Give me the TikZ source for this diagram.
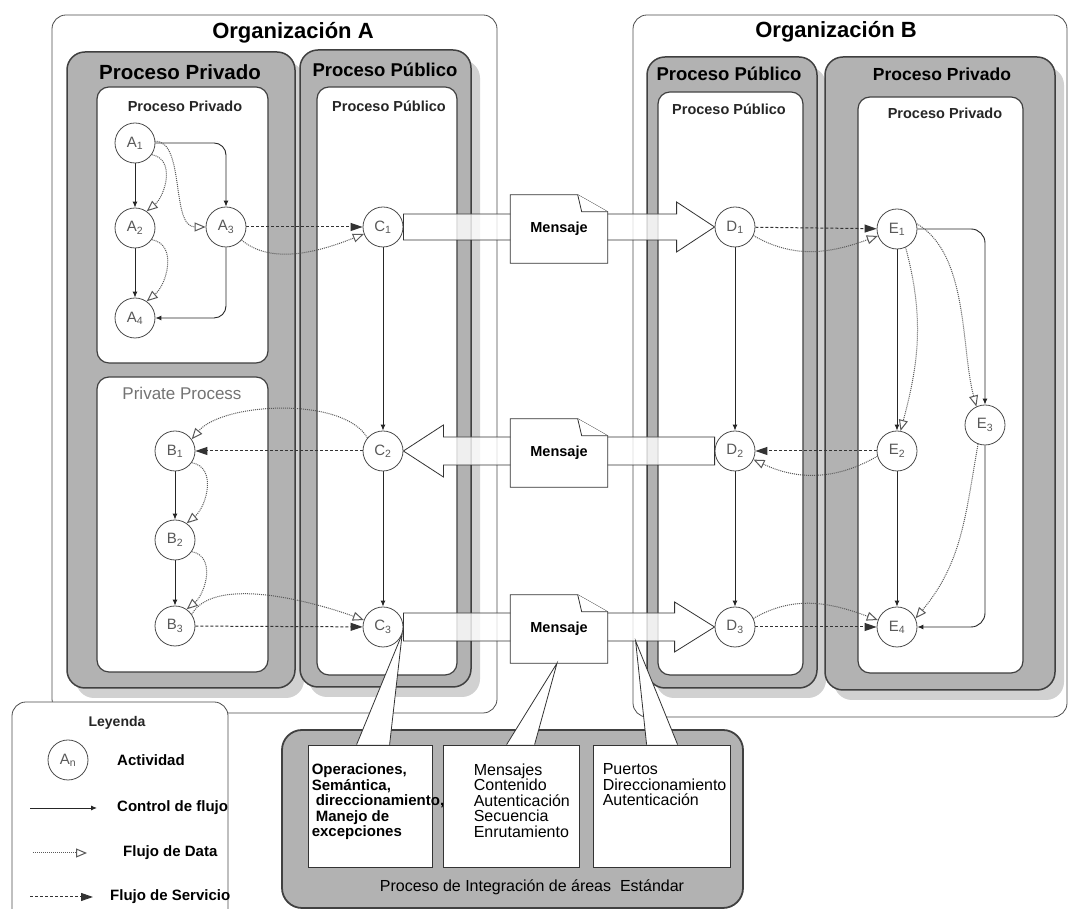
\documentclass[tikz,border=0pt]{standalone}
\usepackage{fontspec}
\setmainfont{Liberation Sans}
\usetikzlibrary{calc}
\usetikzlibrary{arrows.meta}
\usetikzlibrary{shadows}

\pgfdeclarelayer{boxes}
\pgfdeclarelayer{flows}
\pgfsetlayers{boxes,flows,main}

\tikzset{
  act/.style={circle, draw=black!70, fill=white, line width=0.8pt, minimum size=40pt, inner sep=0pt,
    font=\fontsize{15}{15}\selectfont, text=black!65},
  org/.style={draw=black!70, line width=0.8pt, rounded corners=14pt, fill=white},
  grisbox/.style={draw=black!75, line width=1.5pt, rounded corners=18pt, fill=black!30,
    drop shadow={fill=black!18, opacity=1, shadow xshift=9pt, shadow yshift=-10pt}},
  blancobox/.style={draw=black!75, line width=1.2pt, rounded corners=12pt, fill=white},
  integbox/.style={draw=black!75, line width=1.8pt, rounded corners=20pt, fill=black!30},
  celda/.style={draw=black!80, line width=0.8pt, fill=white, inner sep=0pt},
  celdatxt/.style={anchor=north west, inner sep=0pt, align=left},
  ctrl/.style={-{Latex[length=6pt,width=5pt]}, black!85, line width=0.9pt},
  data/.style={-{Triangle[open,length=11pt,width=9pt,line width=1pt]}, densely dotted, black!65, line width=1pt},
  serv/.style={-{Triangle[length=12pt,width=8pt]}, densely dashed, black!80, line width=1pt},
  flecha/.style={draw=black!80, line width=0.8pt, fill=white, fill opacity=0.8},
  hoja/.style={draw=black!80, line width=0.8pt, fill=white},
  globo/.style={draw=black!80, line width=0.8pt, fill=white},
  msj/.style={minimum width=97pt, minimum height=68pt, inner sep=0pt, font=\bfseries\fontsize{14.5}{16}\selectfont},
  orgtit/.style={font=\bfseries\fontsize{22}{24}\selectfont},
  proctit/.style={font=\bfseries\fontsize{18.5}{20}\selectfont},
  subtit/.style={font=\bfseries\fontsize{14.5}{16}\selectfont, text=black!85},
  leytxt/.style={anchor=west, inner sep=0pt, font=\bfseries\fontsize{15}{16}\selectfont}
}

\begin{document}
\begin{tikzpicture}[x=1pt,y=1pt]
\useasboundingbox (0,0) rectangle (1069,909);

% actividades
\node[act] (A1) at (135,766) {A\textsubscript{1}};
\node[act] (A2) at (135,681) {A\textsubscript{2}};
\node[act] (A3) at (226,682) {A\textsubscript{3}};
\node[act] (A4) at (135,591) {A\textsubscript{4}};
\node[act] (B1) at (175,458) {B\textsubscript{1}};
\node[act] (B2) at (175,369) {B\textsubscript{2}};
\node[act] (B3) at (175,283) {B\textsubscript{3}};
\node[act] (C1) at (383,682) {C\textsubscript{1}};
\node[act] (C2) at (383,458) {C\textsubscript{2}};
\node[act] (C3) at (383,282) {C\textsubscript{3}};
\node[act] (D1) at (735,682) {D\textsubscript{1}};
\node[act] (D2) at (735,458) {D\textsubscript{2}};
\node[act] (D3) at (735,282) {D\textsubscript{3}};
\node[act] (E1) at (897,680) {E\textsubscript{1}};
\node[act] (E2) at (897,458) {E\textsubscript{2}};
\node[act] (E3) at (985,484) {E\textsubscript{3}};
\node[act] (E4) at (897,282) {E\textsubscript{4}};

% titulos
\node[orgtit] (tOrgA) at (293,876) {Organización A};
\node[orgtit] (tOrgB) at (836,877) {Organización B};
\node[proctit, font=\bfseries\fontsize{20.5}{22}\selectfont] (tPrivA) at (180,837) {Proceso Privado};
\node[proctit] (tPubA) at (385,839) {Proceso Público};
\node[proctit] (tPubB) at (729,835) {Proceso Público};
\node[proctit, font=\bfseries\fontsize{17.5}{19}\selectfont] (tPrivB) at (942,835) {Proceso Privado};
\node[subtit] (sPrivA) at (185,803) {Proceso Privado};
\node[subtit] (sPubA) at (389,803) {Proceso Público};
\node[subtit] (sPubB) at (729,800) {Proceso Público};
\node[subtit] (sPrivB) at (945,796) {Proceso Privado};
\node[font=\fontsize{17}{18}\selectfont, text=black!55] (sPrivProc) at (182,516) {Private Process};

% mensajes
\node[msj] (M1) at ($(C1)!.5!(D1)+(0,-2)$) {Mensaje};
\node[msj] (M2) at ($(C2)!.5!(D2)+(0,-2)$) {Mensaje};
\node[msj] (M3) at ($(C3)!.5!(D3)+(0,-2)$) {Mensaje};

% leyenda
\node[font=\bfseries\fontsize{14}{16}\selectfont, text=black!85] (leyT) at (117,186) {Leyenda};
\node[act] (An) at (68,149) {A\textsubscript{n}};
\node[leytxt] (actT) at (117,149) {Actividad};
\coordinate (ctrlA) at (30,101); \coordinate (ctrlB) at (97,101);
\draw[ctrl] (ctrlA) -- (ctrlB);
\node[leytxt] (ctrlT) at (117,101) {Control de flujo};
\coordinate (dataA) at (33,56); \coordinate (dataB) at (87,56);
\draw[data] (dataA) -- (dataB);
\node[leytxt] (dataT) at (123,56) {Flujo de Data};
\coordinate (servA) at (30,12); \coordinate (servB) at (93,12);
\draw[serv] (servA) -- (servB);
\node[leytxt] (servT) at (110,12) {Flujo de Servicio};

\begin{pgfonlayer}{boxes}
\draw[org] (52,196) rectangle (497,894);
\draw[org] (633,192) rectangle (1067,894);
\draw[org] (12,-1) |- (228,207) -- (228,-1);
\draw[grisbox] (67,221) rectangle (295,857);
\draw[grisbox] (300,222) rectangle (471,859);
\draw[grisbox] (647,221) rectangle (817,852);
\draw[grisbox] (825,219) rectangle (1055,852);
\draw[blancobox] (97,546) rectangle (268,822);
\draw[blancobox] (97,237) rectangle (268,532);
\draw[blancobox] (317,234) rectangle (457,822);
\draw[blancobox] (658,234) rectangle (803,817);
\draw[blancobox] (858,236) rectangle (1023,812);
% integracion
\draw[integbox] (282,1) rectangle (743,179);
\node[celda, minimum width=124pt, minimum height=122pt] (ops) at (370,103) {};
\node[celda, minimum width=136pt, minimum height=122pt] (msgs) at (511,103) {};
\node[celda, minimum width=137pt, minimum height=122pt] (ports) at (661.5,103) {};
\node[celdatxt, font=\bfseries\fontsize{15}{15.5}\selectfont] (opsT) at ($(ops.north west)+(4,-19)$)
  {Operaciones,\\Semántica,\\\hspace*{4pt}direccionamiento,\\\hspace*{4pt}Manejo de\\excepciones};
\node[celdatxt, font=\fontsize{16}{15.5}\selectfont] (msgsT) at ($(msgs.north west)+(31,-19)$)
  {Mensajes\\Contenido\\Autenticación\\Secuencia\\Enrutamiento};
\node[celdatxt, font=\fontsize{16}{15.5}\selectfont] (portsT) at ($(ports.north west)+(10,-19)$)
  {Puertos\\Direccionamiento\\Autenticación};
\node[font=\fontsize{16}{18}\selectfont] (integT) at (532,22) {Proceso de Integración de áreas\ \ Estándar};
\end{pgfonlayer}

\begin{pgfonlayer}{flows}
% flechas de mensaje
\draw[flecha] ($(C1.east)+(0,13)$) -- ($(D1.west)+(-38,13)$) -- ($(D1.west)+(-38,25)$) -- (D1.west)
  -- ($(D1.west)+(-38,-25)$) -- ($(D1.west)+(-38,-13)$) -- ($(C1.east)+(0,-13)$) -- cycle;
\draw[flecha] ($(D2.west)+(0,14)$) -- ($(C2.east)+(40,14)$) -- ($(C2.east)+(40,26)$) -- (C2.east)
  -- ($(C2.east)+(40,-26)$) -- ($(C2.east)+(40,-14)$) -- ($(D2.west)+(0,-14)$) -- cycle;
\draw[flecha] ($(C3.east)+(0,14)$) -- ($(D3.west)+(-40,14)$) -- ($(D3.west)+(-40,25)$) -- (D3.west)
  -- ($(D3.west)+(-40,-25)$) -- ($(D3.west)+(-40,-14)$) -- ($(C3.east)+(0,-14)$) -- cycle;
\draw[hoja] (M1.south west) |- ($(M1.north east)+(-30,0)$) -- ($(M1.north east)+(0,-17)$) -- (M1.south east) -- cycle;
\draw[hoja] ($(M1.north east)+(-30,0)$) -- ($(M1.north east)+(-26,-17)$) -- ($(M1.north east)+(0,-17)$);
\draw[hoja] (M2.south west) |- ($(M2.north east)+(-30,0)$) -- ($(M2.north east)+(0,-17)$) -- (M2.south east) -- cycle;
\draw[hoja] ($(M2.north east)+(-30,0)$) -- ($(M2.north east)+(-26,-17)$) -- ($(M2.north east)+(0,-17)$);
\draw[hoja] (M3.south west) |- ($(M3.north east)+(-30,0)$) -- ($(M3.north east)+(0,-17)$) -- (M3.south east) -- cycle;
\draw[hoja] ($(M3.north east)+(-30,0)$) -- ($(M3.north east)+(-26,-17)$) -- ($(M3.north east)+(0,-17)$);

% globos hacia las areas estandar
\coordinate (P3) at ($(D3.west)+(-79,-14)$);
\draw[globo] ($(ops.north west)+(49,0)$) -- (C3.-20) -- ($(ops.north west)+(82,0)$);
\draw[globo] ($(msgs.north west)+(64,0)$) -- ($(M3.south)+(-2,0)$) -- ($(msgs.north west)+(92,0)$);
\draw[globo] ($(ports.north west)+(54,0)$) -- (P3) -- ($(ports.north west)+(85,0)$);

% control de flujo
\draw[ctrl] (A1) -- (A2);
\draw[ctrl] (A2) -- (A4);
\draw[ctrl, rounded corners=12pt] (A1.east) -| (A3.north);
\draw[ctrl, rounded corners=12pt] (A3.south) |- (A4.east);
\draw[ctrl] (B1) -- (B2);
\draw[ctrl] (B2) -- (B3);
\draw[ctrl] (C1) -- (C2);
\draw[ctrl] (C2) -- (C3);
\draw[ctrl] (D1) -- (D2);
\draw[ctrl] (D2) -- (D3);
\draw[ctrl] (E1) -- (E2);
\draw[ctrl] (E2) -- (E4);
\draw[ctrl, rounded corners=14pt] (E1.east) -| (E3.north);
\draw[ctrl, rounded corners=14pt] (E3.south) |- (E4.east);

% flujo de data y de servicio
\draw[data] (A1.-35) to[out=-10,in=40,looseness=1.1] (A2.55);
\draw[data] (A2.-35) to[out=-10,in=40,looseness=1.1] (A4.55);
\draw[data] (A1.5) .. controls +(30,0) and +(-35,0) .. (A3.west);
\draw[data] (A3.-40) .. controls +(30,-25) and +(-45,-18) .. (C1.200);
\draw[serv] (A3) -- (C1);
\draw[data] (C2.140) to[out=120,in=50,looseness=.7] (B1.35);
\draw[serv] (C2) -- (B1);
\draw[data] (B1.-35) to[out=-10,in=40,looseness=1.1] (B2.55);
\draw[data] (B2.-35) to[out=-10,in=40,looseness=1.1] (B3.55);
\draw[data] (B3.35) to[out=60,in=160,looseness=.7] (C3.160);
\draw[serv] (B3) -- (C3);
\draw[data] (D1.-25) to[out=-30,in=200] (E1.200);
\draw[serv] (D1) -- (E1);
\draw[data] (E2.195) to[out=210,in=-25] (D2.-25);
\draw[serv] (E2) -- (D2);
\draw[data] (D3.25) to[out=30,in=160] (E4.160);
\draw[serv] (D3) -- (E4);
\draw[data] (E1.-65) to[out=-75,in=75] (E2.80);
\draw[data] (E1.15) to[out=-30,in=105,looseness=.8] (E3.115);
\draw[data] (E3.-110) to[out=-100,in=50] (E4.25);
\end{pgfonlayer}

\end{tikzpicture}
\end{document}
